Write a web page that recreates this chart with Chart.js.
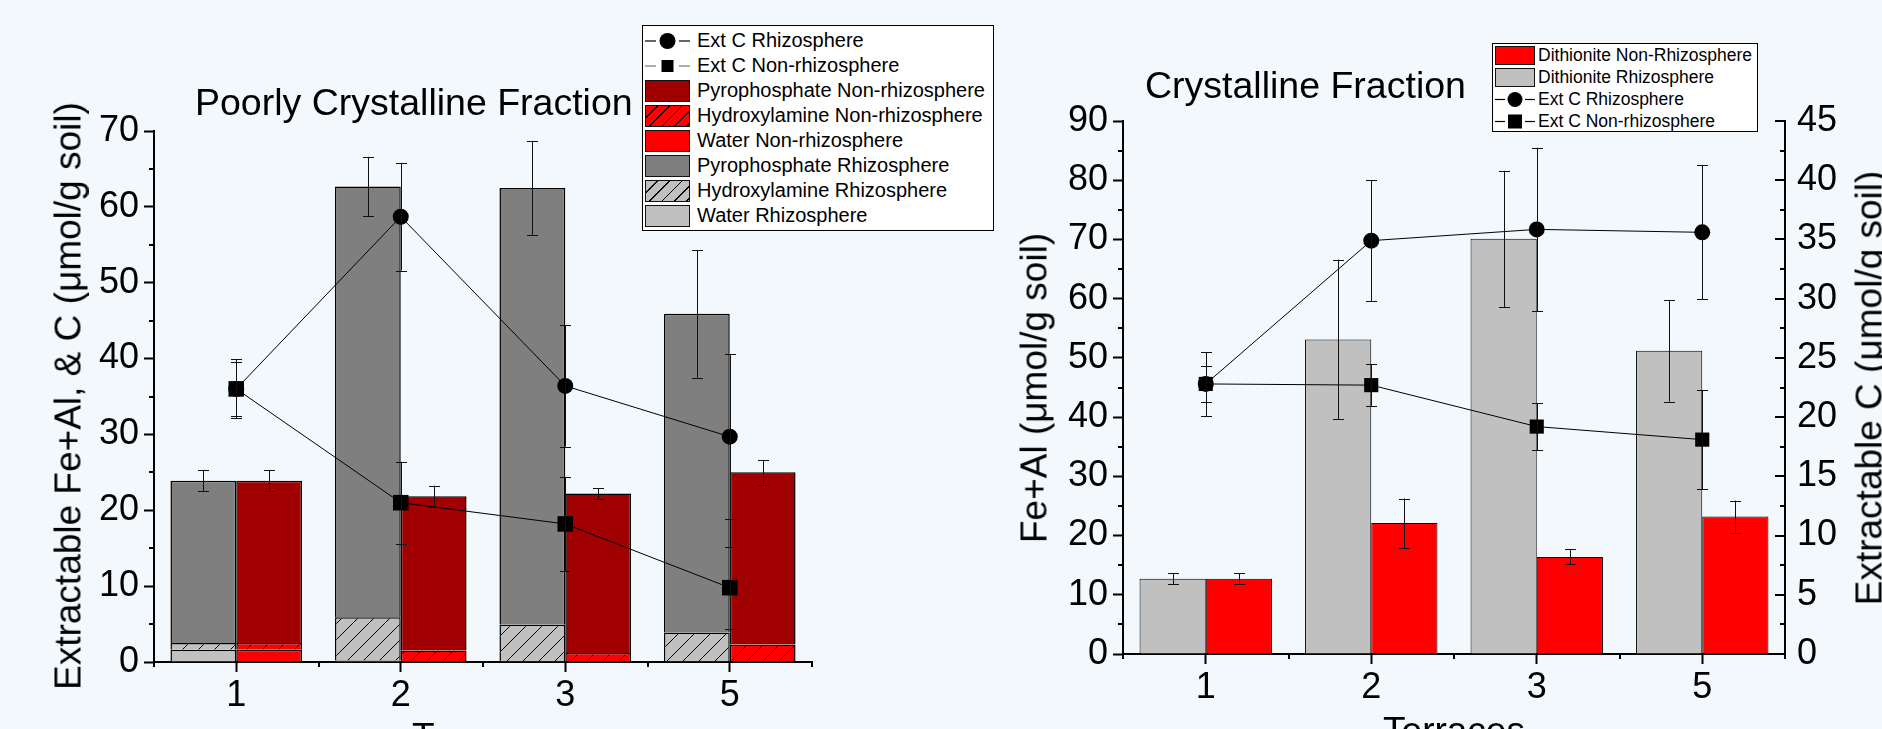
<!DOCTYPE html>
<html>
<head>
<meta charset="utf-8">
<title>Extractable Fe+Al and C by terrace</title>
<script src="https://cdn.jsdelivr.net/npm/chart.js@4.4.1/dist/chart.umd.min.js"></script>
<style>
  html, body { margin: 0; padding: 0; }
  body {
    width: 1882px; height: 729px; overflow: hidden; position: relative;
    background: #f3f8fc; color: #000;
    font-family: 'Liberation Sans', Arial, sans-serif;
  }
  canvas { position: absolute; left: 0; top: 0; }
  .txt { position: absolute; white-space: nowrap; line-height: 1; font-size: 37px; }
  .rot { transform: translate(-50%, -50%) rotate(-90deg); }
  .legend { position: absolute; background: #fff; border: 1px solid #000; box-sizing: border-box; }
  .row { position: absolute; left: 0; display: flex; align-items: center; white-space: nowrap; }
  .sw { display: block; box-sizing: border-box; border: 1.5px solid #111; flex: none; }
  .sym { display: block; flex: none; }
</style>
</head>
<body>
<canvas id="cA" width="1882" height="729"></canvas>
<canvas id="cB" width="1882" height="729"></canvas>

<!-- titles -->
<div class="txt" style="left:195px; top:84px; font-size:37.5px;">Poorly Crystalline Fraction</div>
<div class="txt" style="left:1145px; top:67px; font-size:37.5px;">Crystalline Fraction</div>
<div class="txt rot" style="left:68px; top:396px;">Extractable Fe+Al, &amp; C (&mu;mol/g soil)</div>
<div class="txt rot" style="left:1034px; top:388px;">Fe+Al (&mu;mol/g soil)</div>
<div class="txt rot" style="left:1869px; top:388px;">Extractable C (&mu;mol/g soil)</div>
<div class="txt" style="left:483px; top:718px; transform:translateX(-50%);">Terraces</div>
<div class="txt" style="left:1454px; top:712px; transform:translateX(-50%);">Terraces</div>

<!-- legend, left panel -->
<div class="legend" id="legA" style="left:642px; top:25px; width:352px; height:206px; font-size:20px;">
  <div class="row" style="top:2px; height:25px;"><svg class="sym" width="45" height="22" style="margin-left:2px"><line x1="0" y1="11" x2="11" y2="11" stroke="#000" stroke-width="1.2"/><circle cx="22.5" cy="11" r="8"/><line x1="34" y1="11" x2="45" y2="11" stroke="#000" stroke-width="1.2"/></svg><span style="margin-left:7px">Ext C Rhizosphere</span></div>
  <div class="row" style="top:27px; height:25px;"><svg class="sym" width="45" height="22" style="margin-left:2px"><line x1="0" y1="11" x2="11" y2="11" stroke="#777" stroke-width="1.2"/><rect x="16.5" y="5" width="12" height="12"/><line x1="34" y1="11" x2="45" y2="11" stroke="#777" stroke-width="1.2"/></svg><span style="margin-left:7px">Ext C Non-rhizosphere</span></div>
  <div class="row" style="top:52px; height:25px;"><span class="sw" style="width:45px;height:22px;margin-left:2px;background:#a00000"></span><span style="margin-left:7px">Pyrophosphate Non-rhizosphere</span></div>
  <div class="row" style="top:77px; height:25px;"><span class="sw" style="width:45px;height:22px;margin-left:2px;background:repeating-linear-gradient(135deg,#ff0000 0 7.5px,#000 7.5px 8.7px)"></span><span style="margin-left:7px">Hydroxylamine Non-rhizosphere</span></div>
  <div class="row" style="top:102px; height:25px;"><span class="sw" style="width:45px;height:22px;margin-left:2px;background:#ff0000"></span><span style="margin-left:7px">Water Non-rhizosphere</span></div>
  <div class="row" style="top:127px; height:25px;"><span class="sw" style="width:45px;height:22px;margin-left:2px;background:#7f7f7f"></span><span style="margin-left:7px">Pyrophosphate Rhizosphere</span></div>
  <div class="row" style="top:152px; height:25px;"><span class="sw" style="width:45px;height:22px;margin-left:2px;background:repeating-linear-gradient(135deg,#c0c0c0 0 7.5px,#000 7.5px 8.7px)"></span><span style="margin-left:7px">Hydroxylamine Rhizosphere</span></div>
  <div class="row" style="top:177px; height:25px;"><span class="sw" style="width:45px;height:22px;margin-left:2px;background:#c0c0c0"></span><span style="margin-left:7px">Water Rhizosphere</span></div>
</div>

<!-- legend, right panel -->
<div class="legend" id="legB" style="left:1492px; top:43px; width:266px; height:89px; font-size:17.5px;">
  <div class="row" style="top:0px; height:22px;"><span class="sw" style="width:40px;height:19px;margin-left:2px;background:#ff0000"></span><span style="margin-left:3px">Dithionite Non-Rhizosphere</span></div>
  <div class="row" style="top:22px; height:22px;"><span class="sw" style="width:40px;height:19px;margin-left:2px;background:#c0c0c0"></span><span style="margin-left:3px">Dithionite Rhizosphere</span></div>
  <div class="row" style="top:44px; height:22px;"><svg class="sym" width="40" height="19" style="margin-left:2px"><line x1="0" y1="9.5" x2="10" y2="9.5" stroke="#000" stroke-width="1.2"/><circle cx="20" cy="9.5" r="7.5"/><line x1="30" y1="9.5" x2="40" y2="9.5" stroke="#000" stroke-width="1.2"/></svg><span style="margin-left:3px">Ext C Rhizosphere</span></div>
  <div class="row" style="top:66px; height:22px;"><svg class="sym" width="40" height="19" style="margin-left:2px"><line x1="0" y1="9.5" x2="10" y2="9.5" stroke="#000" stroke-width="1.2"/><rect x="13" y="2.5" width="14" height="14"/><line x1="30" y1="9.5" x2="40" y2="9.5" stroke="#000" stroke-width="1.2"/></svg><span style="margin-left:3px">Ext C Non-rhizosphere</span></div>
</div>

<script>
// ---- data (µmol/g soil) ----
const terraces = ['1', '2', '3', '5'];

// Poorly crystalline fraction: stacked extractions
const waterRhizo   = [1.6, 0.2, 0.1, 0.1];
const hydroxRhizo  = [0.9, 5.7, 4.8, 3.8];
const pyroRhizo    = [21.4, 56.8, 57.6, 42.0];
const pyroRhizoErr = [1.4, 3.9, 6.2, 8.4];
const waterNon     = [1.6, 0, 0, 0];
const hydroxNon    = [0.9, 1.5, 1.2, 2.3];
const pyroNon      = [21.4, 20.35, 21.0, 22.7];
const pyroNonErr   = [1.4, 1.4, 0.7, 1.65];
const extCRhizoA    = [36.0, 58.7, 36.4, 29.7];
const extCRhizoAErr = [3.9, 7.1, 8.0, 10.9];
const extCNonA      = [36.0, 21.0, 18.2, 9.8];
const extCNonAErr   = [3.6, 5.4, 6.2, 5.4];

// Crystalline fraction
const dithRhizo     = [12.7, 53.1, 70.1, 51.2];
const dithRhizoErr  = [0.95, 13.5, 11.5, 8.6];
const dithNon       = [12.7, 22.1, 16.4, 23.2];
const dithNonErr    = [0.95, 4.15, 1.25, 2.7];
const extCRhizoB    = [22.8, 34.9, 35.85, 35.6];
const extCRhizoBErr = [2.7, 5.1, 6.9, 5.65];
const extCNonB      = [22.8, 22.7, 19.2, 18.1];
const extCNonBErr   = [1.5, 1.75, 2.0, 4.2];

// tick labels
const yTicksA  = [0, 10, 20, 30, 40, 50, 60, 70];
const yTicksB  = [0, 10, 20, 30, 40, 50, 60, 70, 80, 90];
const y2TicksB = [0, 5, 10, 15, 20, 25, 30, 35, 40, 45];

Chart.defaults.font.family = "'Liberation Sans', Arial, sans-serif";
Chart.defaults.color = '#000';

// diagonal hatch fill
function hatch(bg){
  const s = 16, c = document.createElement('canvas');
  c.width = s; c.height = s;
  const g = c.getContext('2d');
  g.fillStyle = bg; g.fillRect(0, 0, s, s);
  g.strokeStyle = '#000'; g.lineWidth = 1;
  g.beginPath();
  g.moveTo(0, s); g.lineTo(s, 0);
  g.moveTo(-2, 2); g.lineTo(2, -2);
  g.moveTo(s-2, s+2); g.lineTo(s+2, s-2);
  g.stroke();
  return g.createPattern(c, 'repeat');
}

const mids = (arr) => arr.slice(1).map((v, i) => (v + arr[i]) / 2);

// error bars, drawn from each dataset's "errors" list
const errorBars = {
  id: 'errorBars',
  afterDatasetsDraw(chart){
    const ctx = chart.ctx;
    chart.data.datasets.forEach((ds, i) => {
      if(!ds.errors) return;
      const meta = chart.getDatasetMeta(i);
      const ys = chart.scales[meta.yAxisID];
      ctx.save();
      ctx.strokeStyle = ds.errColor || '#111';
      ctx.lineWidth = 1;
      meta.data.forEach((el, j) => {
        const e = ds.errors[j];
        if(!e) return;
        const v = ys.getValueForPixel(el.y);
        const y1 = ys.getPixelForValue(v + e), y2 = ys.getPixelForValue(v - e);
        const x = Math.round(el.x) + 0.5, w = (ds.errCap || 11) / 2;
        ctx.beginPath();
        ctx.moveTo(x, y1); ctx.lineTo(x, y2);
        ctx.moveTo(x - w, Math.round(y1)+0.5); ctx.lineTo(x + w, Math.round(y1)+0.5);
        ctx.moveTo(x - w, Math.round(y2)+0.5); ctx.lineTo(x + w, Math.round(y2)+0.5);
        ctx.stroke();
      });
      ctx.restore();
    });
  }
};

// minor / inward ticks
const extraTicks = {
  id: 'extraTicks',
  afterDraw(chart, args, opts){
    const ctx = chart.ctx, a = chart.chartArea;
    ctx.save();
    ctx.strokeStyle = '#000'; ctx.lineWidth = 2;
    (opts.items || []).forEach(it => {
      const s = chart.scales[it.scale];
      it.values.forEach(v => {
        const p = Math.round(s.getPixelForValue(v));
        ctx.beginPath();
        if(it.side === 'left'){ ctx.moveTo(a.left, p); ctx.lineTo(a.left - it.len, p); }
        else if(it.side === 'rightIn'){ ctx.moveTo(a.right, p); ctx.lineTo(a.right - it.len, p); }
        else { ctx.moveTo(p, a.bottom); ctx.lineTo(p, a.bottom + it.len); }
        ctx.stroke();
      });
    });
    ctx.restore();
  }
};

const bounds = [-0.5, 0.5, 1.5, 2.5, 3.5];

function axisX(){
  return {
    stacked: true, offset: true,
    border: { color: '#000', width: 2 },
    grid: { drawOnChartArea: false, offset: false, tickLength: 10, tickWidth: 2, tickColor: '#000' },
    ticks: { font: { size: 36 }, color: '#000', padding: 2, maxRotation: 0, autoSkip: false },
    afterFit: (s) => { s.height = 60; }
  };
}
function axisY(ticks, max, extra){
  return Object.assign({
    min: 0, max: max,
    border: { color: '#000', width: 2 },
    grid: { drawOnChartArea: false, tickLength: 10, tickWidth: 2, tickColor: '#000' },
    ticks: { font: { size: 36 }, color: '#000', padding: 5 },
    afterBuildTicks: (s) => { s.ticks = ticks.map(v => ({ value: v })); },
    afterFit: (s) => { s.width = 60; }
  }, extra || {});
}

const baseOpts = {
  responsive: false,
  animation: false,
  events: [],
  plugins: { legend: { display: false }, tooltip: { enabled: false }, title: { display: false } }
};

function lineSet(label, data, errs, style, radius, axis){
  return {
    type: 'line', label, data, yAxisID: axis,
    errors: errs, errCap: 11, errColor: '#111',
    borderColor: '#000', borderWidth: 1, tension: 0,
    pointStyle: style, pointRadius: radius,
    pointBackgroundColor: '#000', pointBorderColor: '#000', pointBorderWidth: 0
  };
}
function barSet(label, data, color, stack, errs, bw){
  return {
    type: 'bar', label, data, stack, backgroundColor: color,
    borderColor: '#000', borderWidth: bw, errors: errs, errCap: 11, errColor: '#111'
  };
}

// ---- left panel: Poorly Crystalline Fraction ----
new Chart(document.getElementById('cA'), {
  data: {
    labels: terraces,
    datasets: [
      lineSet('Ext C Rhizosphere', extCRhizoA, extCRhizoAErr, 'circle', 8, 'yC'),
      lineSet('Ext C Non-rhizosphere', extCNonA, extCNonAErr, 'rect', 11, 'yC'),
      barSet('Water Rhizosphere', waterRhizo, '#c0c0c0', 'rhizo', null, 1.5),
      barSet('Hydroxylamine Rhizosphere', hydroxRhizo, hatch('#c0c0c0'), 'rhizo', null, 1.5),
      barSet('Pyrophosphate Rhizosphere', pyroRhizo, '#7f7f7f', 'rhizo', pyroRhizoErr, 1.5),
      barSet('Water Non-rhizosphere', waterNon, '#ff0000', 'non', null, 1.5),
      barSet('Hydroxylamine Non-rhizosphere', hydroxNon, hatch('#ff0000'), 'non', null, 1.5),
      barSet('Pyrophosphate Non-rhizosphere', pyroNon, '#a00000', 'non', pyroNonErr, 1.5)
    ]
  },
  options: Object.assign({}, baseOpts, {
    categoryPercentage: 0.8, barPercentage: 1.0,
    layout: { padding: { left: 94, right: 1070, top: 131, bottom: 7 } },
    scales: {
      x: axisX(),
      y: axisY(yTicksA, 70, { stacked: true }),
      yC: { display: false, min: 0, max: 70 }
    },
    plugins: Object.assign({}, baseOpts.plugins, {
      extraTicks: { items: [
        { scale: 'y', side: 'left', len: 5, values: mids(yTicksA) },
        { scale: 'x', side: 'bottom', len: 5, values: bounds }
      ] }
    })
  }),
  plugins: [errorBars, extraTicks]
});

// ---- right panel: Crystalline Fraction ----
new Chart(document.getElementById('cB'), {
  data: {
    labels: terraces,
    datasets: [
      lineSet('Ext C Rhizosphere', extCRhizoB, extCRhizoBErr, 'circle', 8, 'y1'),
      lineSet('Ext C Non-rhizosphere', extCNonB, extCNonBErr, 'rect', 10, 'y1'),
      barSet('Dithionite Rhizosphere', dithRhizo, '#c0c0c0', undefined, dithRhizoErr, 1),
      barSet('Dithionite Non-Rhizosphere', dithNon, '#ff0000', undefined, dithNonErr, 1)
    ]
  },
  options: Object.assign({}, baseOpts, {
    categoryPercentage: 0.8, barPercentage: 1.0,
    layout: { padding: { left: 1063, right: 37, top: 121, bottom: 15 } },
    scales: {
      x: Object.assign(axisX(), { stacked: false }),
      y: axisY(yTicksB, 90),
      y1: axisY(y2TicksB, 45, {
        position: 'right',
        grid: { drawOnChartArea: false, drawTicks: false },
        ticks: { font: { size: 36 }, color: '#000', padding: 12 }
      })
    },
    plugins: Object.assign({}, baseOpts.plugins, {
      extraTicks: { items: [
        { scale: 'y', side: 'left', len: 5, values: mids(yTicksB) },
        { scale: 'y1', side: 'rightIn', len: 10, values: y2TicksB },
        { scale: 'y1', side: 'rightIn', len: 5, values: mids(y2TicksB) },
        { scale: 'x', side: 'bottom', len: 5, values: bounds }
      ] }
    })
  }),
  plugins: [errorBars, extraTicks]
});
</script>
</body>
</html>
